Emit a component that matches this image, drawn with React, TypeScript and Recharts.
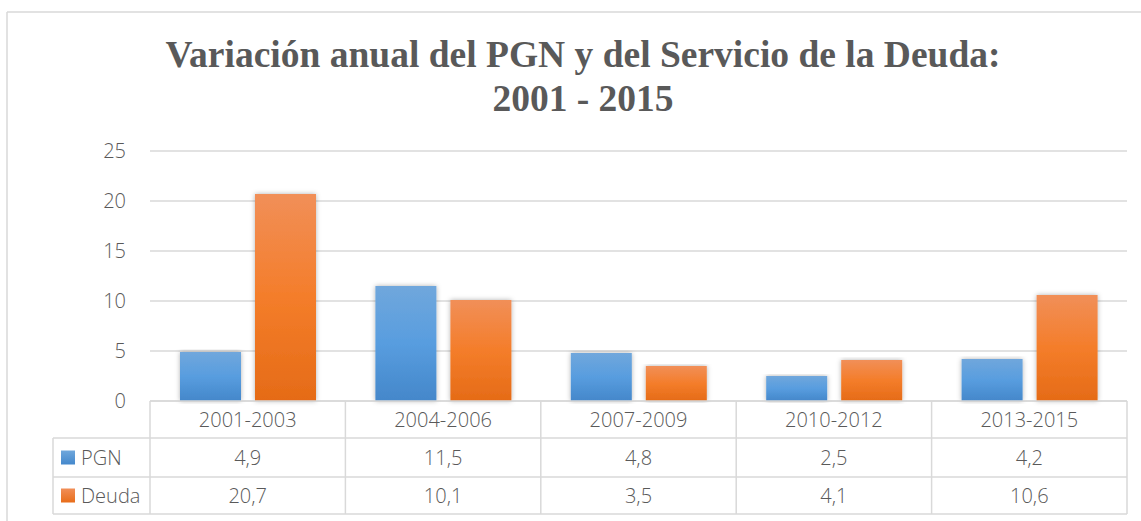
import React from 'react';
import { BarChart, Bar, XAxis, YAxis, CartesianGrid } from 'recharts';

const periods = ['2001-2003', '2004-2006', '2007-2009', '2010-2012', '2013-2015'];
const pgn = [4.9, 11.5, 4.8, 2.5, 4.2];
const deuda = [20.7, 10.1, 3.5, 4.1, 10.6];
const seriesNames = ['PGN', 'Deuda'];
const yTicks = [0, 5, 10, 15, 20, 25];
const titleLines = ['Variación anual del PGN y del Servicio de la Deuda:', '2001 - 2015'];

const data = periods.map((p, i) => ({ period: p, PGN: pgn[i], Deuda: deuda[i] }));

const W = 1141;
const H = 521;
const plotLeft = 150;
const plotRight = 1127;
const plotTop = 151;
const plotBottom = 401;
const rowLines = [401, 438, 477, 514];
const tableLeft = 53;
const gridColor = '#d9d9d9';
const textColor = '#595959';
const font = '"Open Sans", "Noto Sans", sans-serif';

const fmt = (v: number) => v.toFixed(1).replace('.', ',');
const rowMid = (r: number) => (rowLines[r] + rowLines[r + 1]) / 2;

const TableTick = (props: any) => {
  const { x, payload } = props;
  const i = payload?.index ?? props.index ?? 0;
  const cells = [periods[i], fmt(pgn[i]), fmt(deuda[i])];
  return (
    <g>
      {cells.map((c, r) => (
        <text key={r} x={x} y={rowMid(r)} textAnchor="middle" dominantBaseline="central"
          fill={textColor} fontSize={20} fontWeight={300} fontFamily={font}>{c}</text>
      ))}
    </g>
  );
};

const TableLines = () => {
  const n = periods.length;
  const band = (plotRight - plotLeft) / n;
  const cols = Array.from({ length: n + 1 }, (_, k) => plotLeft + k * band);
  const swatch = ['url(#gPgn)', 'url(#gDeuda)'];
  return (
    <svg width={W} height={H} style={{ position: 'absolute', left: 0, top: 0, pointerEvents: 'none' }}>
      <defs>
        <linearGradient id="gPgn" x1="0" y1="0" x2="0" y2="1">
          <stop offset="0%" stopColor="#6fa7dc" />
          <stop offset="100%" stopColor="#4488cc" />
        </linearGradient>
        <linearGradient id="gDeuda" x1="0" y1="0" x2="0" y2="1">
          <stop offset="0%" stopColor="#f18e57" />
          <stop offset="100%" stopColor="#e86d1a" />
        </linearGradient>
      </defs>
      {/* outer frame */}
      <line x1={7} y1={12} x2={W} y2={12} stroke={gridColor} strokeWidth={1.5} />
      <line x1={7} y1={12} x2={7} y2={H} stroke={gridColor} strokeWidth={1.5} />
      {rowLines.map((y, k) => (
        <line key={'h' + k} x1={k === 0 ? plotLeft : tableLeft} y1={y} x2={plotRight} y2={y}
          stroke={gridColor} strokeWidth={1.5} />
      ))}
      {cols.map((x, k) => (
        <line key={'v' + k} x1={x} y1={rowLines[0]} x2={x} y2={rowLines[3]} stroke={gridColor} strokeWidth={1.5} />
      ))}
      <line x1={tableLeft} y1={rowLines[1]} x2={tableLeft} y2={rowLines[3]} stroke={gridColor} strokeWidth={1.5} />
      {seriesNames.map((s, r) => (
        <g key={s}>
          <rect x={61} y={rowMid(r + 1) - 7} width={14} height={14} fill={swatch[r]} />
          <text x={81} y={rowMid(r + 1)} dominantBaseline="central" fill={textColor} fontSize={20}
            fontWeight={300} fontFamily={font}>{s}</text>
        </g>
      ))}
    </svg>
  );
};

export default function App() {
  const xAxisH = rowLines[1] - rowLines[0];
  return (
    <div style={{ position: 'absolute', left: 0, top: 0, width: W, height: H, background: '#fff' }}>
      <div style={{
        position: 'absolute', left: 0, top: 33, width: 1166, textAlign: 'center',
        fontFamily: '"Liberation Serif", "Times New Roman", serif', fontWeight: 'bold',
        fontSize: 37.5, lineHeight: '44px', color: textColor,
      }}>
        {titleLines.map((t) => <div key={t}>{t}</div>)}
      </div>
      <BarChart width={W} height={H} data={data} barSize={61} barGap={14}
        margin={{ top: plotTop, right: W - plotRight, bottom: H - plotBottom - xAxisH, left: plotLeft - 60 }}>
        <defs>
          <linearGradient id="barPgn" x1="0" y1="0" x2="0" y2="1">
            <stop offset="0%" stopColor="#70a7dc" />
            <stop offset="50%" stopColor="#589ddf" />
            <stop offset="100%" stopColor="#4487ca" />
          </linearGradient>
          <linearGradient id="barDeuda" x1="0" y1="0" x2="0" y2="1">
            <stop offset="0%" stopColor="#f18f58" />
            <stop offset="50%" stopColor="#f47d2a" />
            <stop offset="100%" stopColor="#e56b17" />
          </linearGradient>
          <filter id="barShadow" x="-20%" y="-5%" width="140%" height="110%">
            <feDropShadow dx="0" dy="0" stdDeviation="2.5" floodColor="#000" floodOpacity="0.3" />
          </filter>
        </defs>
        <CartesianGrid vertical={false} stroke={gridColor} strokeWidth={1.5} />
        <XAxis dataKey="period" height={xAxisH} axisLine={false} tickLine={false} interval={0}
          tick={<TableTick />} />
        <YAxis width={60} domain={[0, 25]} ticks={yTicks} axisLine={false} tickLine={false}
          tickMargin={18} tick={{ fill: textColor, fontSize: 20, fontWeight: 300, fontFamily: font }} />
        <Bar dataKey="PGN" fill="url(#barPgn)" filter="url(#barShadow)" isAnimationActive={false} />
        <Bar dataKey="Deuda" fill="url(#barDeuda)" filter="url(#barShadow)" isAnimationActive={false} />
      </BarChart>
      <TableLines />
    </div>
  );
}
